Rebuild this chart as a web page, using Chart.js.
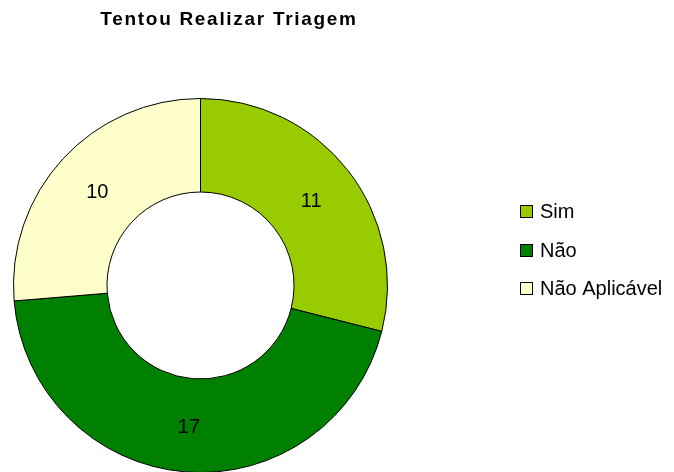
<!DOCTYPE html>
<html>
<head>
<meta charset="utf-8">
<script src="https://cdn.jsdelivr.net/npm/chart.js@4.4.0/dist/chart.umd.min.js"></script>
<style>
  html, body { margin: 0; padding: 0; background: #fff; overflow: hidden; }
  #wrap { position: relative; width: 674px; height: 480px; }
</style>
</head>
<body>
<div id="wrap"><canvas id="canvas"></canvas></div>
<script>
var chartTitle = 'Tentou Realizar Triagem';
var labels = ['Sim', 'Não', 'Não Aplicável'];
var values = [11, 17, 10];
var colors = ['#99CC00', '#008000', '#FFFFCC'];

// draws title, legend and the value labels on the ring
var extras = {
    id: 'extras',
    afterDraw: function(chart) {
        var ctx = chart.ctx;
        ctx.save();

        // title
        ctx.fillStyle = '#000';
        ctx.font = 'bold 19px "Liberation Sans", Arial, sans-serif';
        ctx.letterSpacing = '1.7px';
        ctx.textAlign = 'center';
        ctx.textBaseline = 'alphabetic';
        ctx.fillText(chartTitle, 229, 25);
        ctx.letterSpacing = '0px';

        // value labels
        ctx.font = '20px "Liberation Sans", Arial, sans-serif';
        ctx.textBaseline = 'middle';
        var meta = chart.getDatasetMeta(0);
        meta.data.forEach(function(arc, i) {
            var p = arc.tooltipPosition();
            ctx.fillText(String(values[i]), p.x, p.y + 2);
        });

        // legend
        ctx.textAlign = 'left';
        ctx.textBaseline = 'alphabetic';
        labels.forEach(function(lab, i) {
            var y = Math.round(205 + i * 38.5);
            ctx.fillStyle = colors[i];
            ctx.fillRect(520.5, y + 0.5, 12, 12);
            ctx.strokeStyle = '#000';
            ctx.lineWidth = 1;
            ctx.strokeRect(520.5, y + 0.5, 12, 12);
            ctx.fillStyle = '#000';
            ctx.fillText(lab, 540, y + 13);
        });
        ctx.restore();
    }
};

window.onload = function() {
    var ctx = document.getElementById('canvas').getContext('2d');
    window.myDoughnut = new Chart(ctx, {
        type: 'doughnut',
        data: {
            labels: labels,
            datasets: [{
                data: values,
                backgroundColor: colors,
                borderColor: '#000',
                borderWidth: 1,
                hoverOffset: 0,
                borderAlign: 'center'
            }]
        },
        options: {
            responsive: true,
            maintainAspectRatio: false,
            animation: false,
            cutout: '50%',
            layout: {
                padding: { left: 13, right: 286, top: 98, bottom: 7 }
            },
            plugins: {
                legend: { display: false },
                title: { display: false },
                tooltip: { enabled: false }
            }
        },
        plugins: [extras]
    });
};
</script>
</body>
</html>
